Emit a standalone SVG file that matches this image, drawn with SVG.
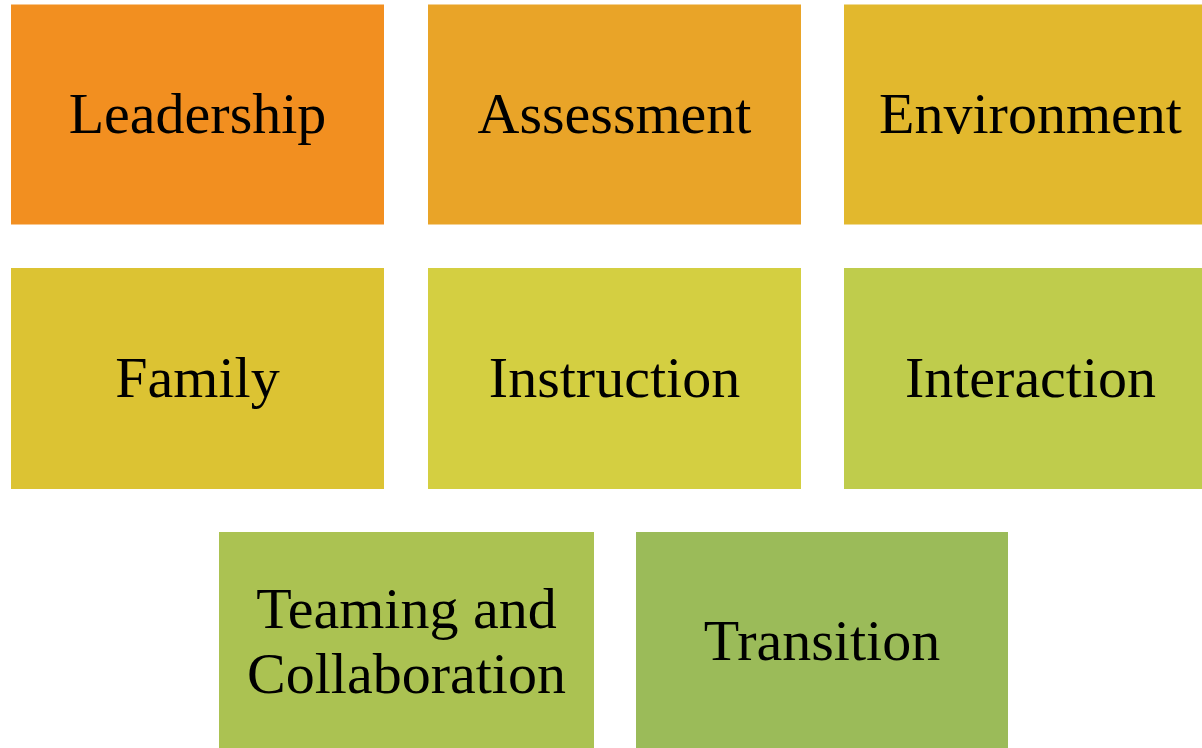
<svg xmlns="http://www.w3.org/2000/svg" width="1202" height="748" viewBox="0 0 1202 748">
<style>
.t{font-family:"Liberation Serif","Times New Roman",serif;font-size:58px;fill:#000;text-anchor:middle}
</style>
<rect width="1202" height="748" fill="#fff"/>
<g id="leadership"><rect x="11" y="4.5" width="373" height="220" fill="#F28F20"/><text class="t" x="197.5" y="133">Leadership</text></g>
<g id="assessment"><rect x="428" y="4.5" width="373" height="220" fill="#E9A428"/><text class="t" x="614.5" y="133">Assessment</text></g>
<g id="environment"><rect x="844" y="4.5" width="373" height="220" fill="#E2B82D"/><text class="t" x="1030.5" y="133">Environment</text></g>
<g id="family"><rect x="11" y="268" width="373" height="221" fill="#DCC333"/><text class="t" x="197.5" y="397">Family</text></g>
<g id="instruction"><rect x="428" y="268" width="373" height="221" fill="#D4CF41"/><text class="t" x="614.5" y="397">Instruction</text></g>
<g id="interaction"><rect x="844" y="268" width="373" height="221" fill="#BFCC4C"/><text class="t" x="1030.5" y="397">Interaction</text></g>
<g id="teaming"><rect x="219" y="532" width="375" height="221" fill="#ABC252"/><text class="t" x="406.5" y="628">Teaming and</text><text class="t" x="406.5" y="693">Collaboration</text></g>
<g id="transition"><rect x="636" y="532" width="372" height="221" fill="#9BBB59"/><text class="t" x="822" y="660">Transition</text></g>
<g id="connectors"></g>
</svg>
